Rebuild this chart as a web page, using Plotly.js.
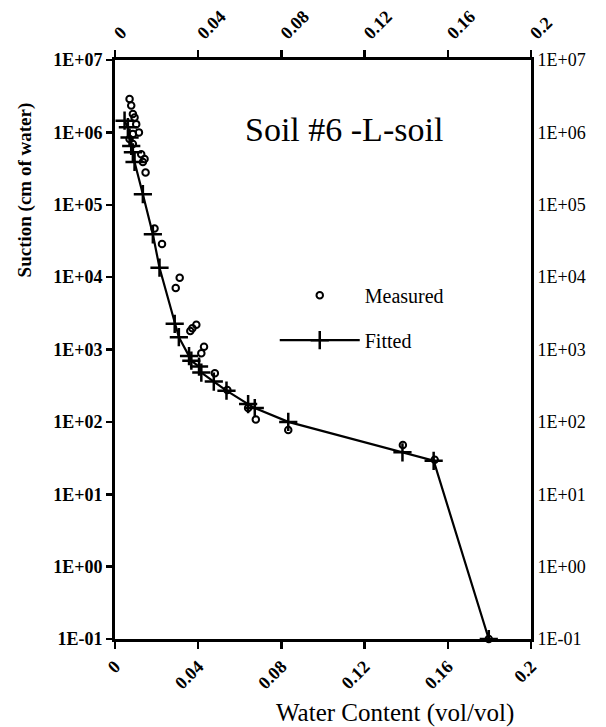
<!DOCTYPE html>
<html>
<head>
<meta charset="utf-8">
<script src="https://cdn.plot.ly/plotly-3.0.1.min.js"></script>
<style>html,body{margin:0;padding:0;background:#fff;}</style>
</head>
<body>
<div id="chart" style="width:606px;height:727px;"></div>
<script>
// Measured data (water content vol/vol, suction cm of water)
var measuredX = [0.0070, 0.0078, 0.0086, 0.0094, 0.0102, 0.0115, 0.0086, 0.0070, 0.0086, 0.0126,
                 0.0142, 0.0134, 0.0147, 0.0190, 0.0226, 0.0311, 0.0292, 0.0391, 0.0372, 0.0362,
                 0.0428, 0.0415, 0.0480, 0.0540, 0.0640, 0.0677, 0.0833, 0.1384, 0.1537, 0.1797];
var measuredY = [2.9e6, 2.35e6, 1.8e6, 1.6e6, 1.3e6, 1.0e6, 9.5e5, 8.1e5, 6.9e5, 5.0e5,
                 4.3e5, 3.9e5, 2.8e5, 4.7e4, 2.86e4, 9800, 7100, 2190, 1960, 1800,
                 1090, 890, 470, 275, 155, 108, 77, 48, 30, 0.1];
// Fitted curve
var fittedX = [0.0046, 0.0062, 0.0070, 0.0078, 0.0086, 0.0094, 0.0134, 0.0182, 0.0214, 0.0287,
               0.0307, 0.0356, 0.0367, 0.0404, 0.0415, 0.0475, 0.0536, 0.0640, 0.0672, 0.0833,
               0.1382, 0.1532, 0.1797];
var fittedY = [1.45e6, 1.18e6, 8.5e5, 6.5e5, 5.3e5, 3.9e5, 1.4e5, 3.9e4, 1.35e4, 2260,
               1480, 810, 700, 580, 480, 360, 270, 176, 155, 100,
               38, 29, 0.1];
var xTickVals = [0, 0.04, 0.08, 0.12, 0.16, 0.2];
var xTickText = ["0", "0.04", "0.08", "0.12", "0.16", "0.2"];
var yTickVals = [0.1, 1, 10, 100, 1000, 1e4, 1e5, 1e6, 1e7];
var yTickText = ["1E-01", "1E+00", "1E+01", "1E+02", "1E+03", "1E+04", "1E+05", "1E+06", "1E+07"];
var chartTitle = "Soil #6 -L-soil";
var xTitle = "Water Content (vol/vol)";
var yTitle = "Suction (cm of water)";

var serif = "Times New Roman, Liberation Serif, Times, serif";
var tickFont = {family: serif, size: 18, color: "#000", weight: "bold"};

var traces = [
  {
    x: measuredX, y: measuredY, type: "scatter", mode: "markers", name: "Measured",
    marker: {symbol: "circle-open", size: 6.5, color: "#000", line: {width: 2, color: "#000"}},
    cliponaxis: false, legendgroup: "a"
  },
  {
    x: fittedX, y: fittedY, type: "scatter", mode: "lines+markers", name: "Fitted",
    line: {color: "#000", width: 2.2},
    marker: {symbol: "cross-thin-open", size: 13, color: "#000", line: {width: 2.5, color: "#000"}},
    legendgroup: "b"
  },
  {
    x: fittedX, y: fittedY, type: "scatter", mode: "markers", xaxis: "x2", yaxis: "y2",
    marker: {opacity: 0}, showlegend: false, hoverinfo: "skip"
  }
];

var axisCommon = {
  showgrid: false, zeroline: false, showline: true, linecolor: "#000", linewidth: 3,
  ticks: "outside", ticklen: 7, tickwidth: 2.5, tickcolor: "#000", tickfont: tickFont
};

var layout = {
  width: 606, height: 727,
  margin: {l: 115, r: 75, t: 60, b: 88},
  paper_bgcolor: "#fff", plot_bgcolor: "#fff",
  font: {family: serif},
  showlegend: true,
  legend: {x: 0.384, y: 0.555, xanchor: "left", yanchor: "middle", bgcolor: "rgba(0,0,0,0)",
           font: {family: serif, size: 20, color: "#000"}, itemwidth: 80, tracegroupgap: 16},
  xaxis: Object.assign({}, axisCommon, {
    type: "linear", range: [0, 0.2], tickvals: xTickVals, ticktext: xTickText, tickangle: -45
  }),
  xaxis2: Object.assign({}, axisCommon, {
    type: "linear", range: [0, 0.2], tickvals: xTickVals, ticktext: xTickText, tickangle: -45,
    overlaying: "x", side: "top", anchor: "y"
  }),
  yaxis: Object.assign({}, axisCommon, {
    type: "log", range: [-1, 7], tickvals: yTickVals, ticktext: yTickText, ticklen: 6
  }),
  yaxis2: Object.assign({}, axisCommon, {
    type: "log", range: [-1, 7], tickvals: yTickVals, ticktext: yTickText,
    overlaying: "y", side: "right", anchor: "x", ticks: "",
    tickfont: {family: serif, size: 18, color: "#000"}
  }),
  annotations: [
    {text: chartTitle, xref: "paper", yref: "paper", x: 0.551, y: 0.88, xanchor: "center", yanchor: "middle",
     showarrow: false, font: {family: serif, size: 34, color: "#000"}},
    {text: xTitle, xref: "paper", yref: "paper", x: 0.674, y: -0.128, xanchor: "center", yanchor: "middle",
     showarrow: false, font: {family: serif, size: 25, color: "#000"}},
    {text: yTitle, xref: "paper", yref: "paper", x: -0.217, y: 0.776, xanchor: "center", yanchor: "middle",
     textangle: -90, showarrow: false, font: {family: serif, size: 19, color: "#000", weight: "bold"}}
  ]
};

Plotly.newPlot("chart", traces, layout, {displayModeBar: false, staticPlot: true});
</script>
</body>
</html>
